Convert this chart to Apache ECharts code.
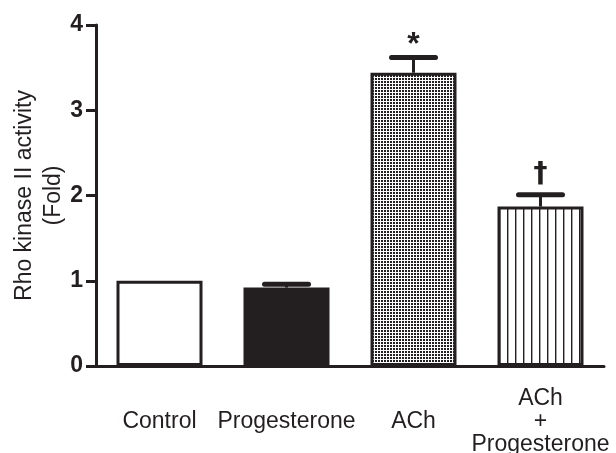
<!DOCTYPE html>
<html>
<head>
<meta charset="utf-8">
<script src="https://cdn.jsdelivr.net/npm/echarts@6/dist/echarts.min.js"></script>
<style>html,body{margin:0;padding:0;background:#fff}#c{width:616px;height:453px}</style>
</head>
<body>
<div id="c"></div>
<script>
const categories = ['Control', 'Progesterone', 'ACh', 'ACh\n+\nProgesterone'];
const values = [1.0, 0.92, 3.44, 1.87];
const errors = [0, 0.04, 0.18, 0.14];
const marks = ['', '', '*', '\u2020'];
const yTicks = [0, 1, 2, 3, 4];

const INK = '#231f20';

function checkerPattern() {
  const c = document.createElement('canvas');
  c.width = 3; c.height = 3;
  const g = c.getContext('2d');
  g.fillStyle = '#fff'; g.fillRect(0, 0, 3, 3);
  g.fillStyle = INK; g.fillRect(0, 0, 2, 2);
  return c;
}
function stripePattern() {
  const c = document.createElement('canvas');
  c.width = 8; c.height = 8;
  const g = c.getContext('2d');
  g.fillStyle = '#fff'; g.fillRect(0, 0, 8, 8);
  g.fillStyle = INK; g.fillRect(3, 0, 1.4, 8);
  return c;
}
const fills = [
  '#ffffff',
  INK,
  { image: checkerPattern(), repeat: 'repeat' },
  { image: stripePattern(), repeat: 'repeat' }
];

const FONT = 'Liberation Sans, Arial, sans-serif';
const chart = echarts.init(document.getElementById('c'), null, { renderer: 'canvas' });
chart.setOption({
  animation: false,
  backgroundColor: '#fff',
  grid: { left: 96, right: 12, top: 25, bottom: 87, containLabel: false, outerBoundsMode: 'none' },
  xAxis: {
    type: 'category',
    data: categories,
    axisLine: { lineStyle: { color: INK, width: 3 } },
    axisTick: { show: false },
    axisLabel: {
      color: INK, fontFamily: FONT, fontSize: 23,
      margin: 56, verticalAlign: 'middle', lineHeight: 23, interval: 0
    }
  },
  yAxis: {
    type: 'value', min: 0, max: 4, interval: 1,
    name: 'Rho kinase II activity\n(Fold)',
    nameLocation: 'middle', nameGap: 28, nameRotate: 90, nameMoveOverlap: false,
    nameTextStyle: { color: INK, fontFamily: FONT, fontSize: 23, lineHeight: 29 },
    axisLine: { show: true, lineStyle: { color: INK, width: 3 } },
    axisTick: { show: true, length: 10, lineStyle: { color: INK, width: 3 } },
    axisLabel: {
      color: INK, fontFamily: FONT, fontSize: 23, fontWeight: 'bold', margin: 13,
      formatter: v => yTicks.includes(v) ? String(v) : ''
    },
    splitLine: { show: false }
  },
  series: [
    {
      type: 'bar',
      barWidth: 86,
      data: values.map((v, i) => ({
        value: v,
        itemStyle: { color: fills[i], borderColor: INK, borderWidth: 3 }
      })),
      z: 2
    },
    {
      type: 'custom',
      z: 3,
      data: values.map((v, i) => [i, v, errors[i]]),
      renderItem: function (params, api) {
        const i = api.value(0), v = api.value(1), e = api.value(2);
        const mark = marks[params.dataIndex];
        const base = api.coord([i, v]);
        const top = api.coord([i, v + e]);
        const children = [];
        if (e > 0) {
          children.push({ type: 'line', shape: { x1: base[0], y1: base[1], x2: top[0], y2: top[1] }, style: { stroke: INK, lineWidth: 3 } });
          children.push({ type: 'line', shape: { x1: top[0] - 22, y1: top[1], x2: top[0] + 22, y2: top[1] }, style: { stroke: INK, lineWidth: 5, lineCap: 'round' } });
        }
        if (mark) {
          const star = mark === '*';
          children.push({
            type: 'text',
            style: {
              text: mark, x: top[0], y: top[1] - (star ? 12 : 20),
              textAlign: 'center', textVerticalAlign: 'middle',
              fill: INK, font: star ? 'bold 32px "Liberation Sans", Arial, sans-serif' : 'bold 28px "DejaVu Sans", sans-serif'
            }
          });
        }
        return { type: 'group', children: children };
      }
    }
  ]
});
</script>
</body>
</html>
